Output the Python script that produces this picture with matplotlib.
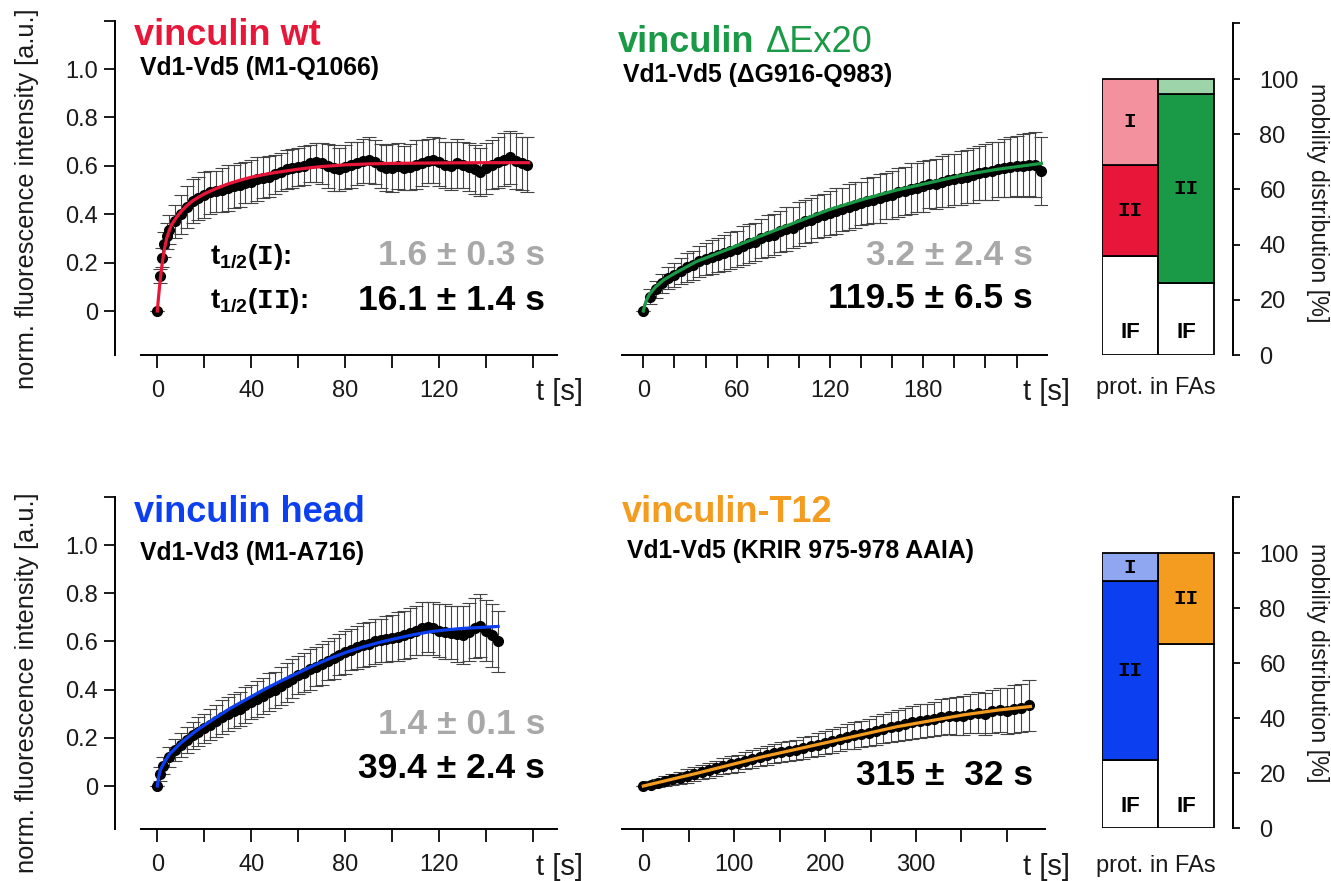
import matplotlib
matplotlib.use('Agg')
import matplotlib.pyplot as plt
import numpy as np

plt.rcParams['font.family'] = 'Liberation Sans'
plt.rcParams['mathtext.fontset'] = 'custom'
plt.rcParams['mathtext.rm'] = 'Liberation Sans:bold'
plt.rcParams['mathtext.tt'] = 'Liberation Mono:bold'
plt.rcParams['mathtext.default'] = 'rm'

# ---- data ----
# vinculin wt
t_wt = np.concatenate([[0, 1, 2, 3, 4, 5], np.arange(7.5, 158, 2.5)])
wt_mean = [0.00, 0.145, 0.22, 0.275, 0.31, 0.335,
           0.37, 0.40, 0.43, 0.455, 0.465, 0.48, 0.49, 0.495, 0.50, 0.51,
           0.515, 0.52, 0.53, 0.535, 0.545, 0.55, 0.555, 0.565, 0.575, 0.585,
           0.59, 0.595, 0.60, 0.61, 0.615, 0.61, 0.60, 0.59, 0.585, 0.595,
           0.605, 0.61, 0.62, 0.625, 0.615, 0.60, 0.59, 0.59, 0.60, 0.59,
           0.595, 0.605, 0.61, 0.62, 0.625, 0.615, 0.605, 0.60, 0.61, 0.605,
           0.595, 0.585, 0.575, 0.59, 0.605, 0.615, 0.625, 0.635, 0.62, 0.61,
           0.605]
wt_sd = [0.0, 0.03, 0.04, 0.05, 0.055, 0.06,
         0.07, 0.08, 0.085, 0.09, 0.09, 0.095, 0.09, 0.085, 0.09, 0.095,
         0.09, 0.09, 0.085, 0.09, 0.09, 0.085, 0.085, 0.08, 0.08, 0.08,
         0.08, 0.08, 0.08, 0.075, 0.08, 0.085, 0.09, 0.095, 0.09, 0.09,
         0.095, 0.09, 0.09, 0.095, 0.09, 0.09, 0.095, 0.1, 0.095, 0.09,
         0.095, 0.1, 0.095, 0.09, 0.095, 0.1, 0.095, 0.1, 0.1, 0.095,
         0.1, 0.1, 0.1, 0.105, 0.1, 0.105, 0.11, 0.11, 0.115, 0.11,
         0.115]
t_wt_fit = [0, 0.5, 1, 1.5, 2, 3, 4, 5, 6, 8, 10, 12.5, 15, 17.5, 20, 25, 30,
            35, 40, 45, 50, 55, 60, 65, 70, 80, 90, 100, 120, 140, 158]
wt_fit = [0, 0.055, 0.105, 0.15, 0.19, 0.255, 0.3, 0.33, 0.355, 0.385, 0.41,
          0.435, 0.455, 0.47, 0.484, 0.506, 0.525, 0.54, 0.553, 0.563, 0.572,
          0.579, 0.586, 0.592, 0.597, 0.604, 0.608, 0.61, 0.612, 0.613, 0.613]

# vinculin dEx20
t_dex = np.arange(0, 257, 4)
dex_mean = [0.0, 0.06, 0.09, 0.115, 0.135, 0.15, 0.165, 0.18, 0.19, 0.205,
            0.215, 0.225, 0.23, 0.24, 0.25, 0.255, 0.27, 0.28, 0.285, 0.30,
            0.31, 0.315, 0.33, 0.34, 0.345, 0.36, 0.37, 0.375, 0.39, 0.395,
            0.405, 0.415, 0.42, 0.43, 0.44, 0.445, 0.455, 0.46, 0.465, 0.475,
            0.48, 0.49, 0.495, 0.505, 0.51, 0.515, 0.525, 0.525, 0.535, 0.54,
            0.545, 0.55, 0.555, 0.56, 0.57, 0.575, 0.58, 0.585, 0.59, 0.595,
            0.60, 0.60, 0.605, 0.605, 0.58]
dex_sd = [0.0, 0.03, 0.035, 0.04, 0.045, 0.05, 0.055, 0.06, 0.06, 0.065,
          0.065, 0.07, 0.07, 0.075, 0.075, 0.075, 0.08, 0.08, 0.08, 0.08,
          0.085, 0.085, 0.085, 0.09, 0.085, 0.09, 0.09, 0.09, 0.09, 0.09,
          0.09, 0.095, 0.09, 0.095, 0.095, 0.09, 0.095, 0.095, 0.1, 0.095,
          0.1, 0.1, 0.1, 0.105, 0.1, 0.105, 0.1, 0.105, 0.105, 0.11,
          0.105, 0.11, 0.11, 0.115, 0.11, 0.115, 0.12, 0.115, 0.12, 0.125,
          0.125, 0.13, 0.13, 0.135, 0.14]
t_dex_fit = [0, 1, 2, 4, 8, 13, 20, 34, 56, 77, 99, 120, 141, 163, 184, 206,
             227, 256]
dex_fit = [0.0, 0.025, 0.045, 0.07, 0.10, 0.128, 0.155, 0.204, 0.259, 0.314,
           0.369, 0.42, 0.461, 0.50, 0.53, 0.562, 0.585, 0.61]

# vinculin head
t_head = np.concatenate([[0, 1], np.arange(2.5, 145.1, 2.5)])
head_mean = [0.0, 0.05,
             0.085, 0.12, 0.15, 0.17, 0.19, 0.21, 0.225, 0.24, 0.255, 0.27,
             0.285, 0.30, 0.31, 0.32, 0.335, 0.35, 0.36, 0.375, 0.39, 0.40,
             0.415, 0.43, 0.445, 0.46, 0.47, 0.485, 0.495, 0.505, 0.52, 0.53,
             0.545, 0.555, 0.565, 0.575, 0.585, 0.59, 0.60, 0.605, 0.61, 0.615,
             0.62, 0.625, 0.635, 0.645, 0.655, 0.66, 0.655, 0.645, 0.64, 0.635,
             0.63, 0.625, 0.64, 0.655, 0.665, 0.645, 0.625, 0.60]
head_sd = [0.0, 0.03,
           0.035, 0.04, 0.045, 0.05, 0.055, 0.055, 0.06, 0.06, 0.065, 0.065,
           0.07, 0.07, 0.07, 0.07, 0.075, 0.07, 0.075, 0.075, 0.08, 0.075,
           0.08, 0.08, 0.08, 0.08, 0.08, 0.085, 0.08, 0.085, 0.08, 0.085,
           0.085, 0.09, 0.085, 0.09, 0.09, 0.09, 0.095, 0.09, 0.095, 0.095,
           0.1, 0.1, 0.105, 0.1, 0.11, 0.105, 0.11, 0.11, 0.115, 0.11,
           0.115, 0.12, 0.12, 0.125, 0.13, 0.125, 0.13, 0.125]
t_head_fit = [0, 0.6, 1.3, 2.7, 5, 9.8, 16.9, 24, 31, 38, 45, 52, 59.4, 66.5,
              73.6, 80.7, 87.8, 95, 102, 109, 116, 123, 130, 145]
head_fit = [0.0, 0.039, 0.066, 0.094, 0.13, 0.177, 0.232, 0.278, 0.322, 0.36,
            0.398, 0.433, 0.467, 0.5, 0.53, 0.556, 0.578, 0.597, 0.613, 0.628,
            0.64, 0.648, 0.654, 0.662]

# vinculin-T12
t_t12 = np.arange(0, 425, 8)
t12_mean = [0.0, 0.005, 0.012, 0.02, 0.028, 0.035, 0.042, 0.05, 0.058, 0.065,
            0.073, 0.082, 0.09, 0.095, 0.105, 0.112, 0.12, 0.128, 0.135, 0.14,
            0.145, 0.15, 0.158, 0.165, 0.172, 0.18, 0.185, 0.195, 0.205, 0.21,
            0.215, 0.222, 0.23, 0.238, 0.245, 0.25, 0.258, 0.265, 0.27, 0.272,
            0.278, 0.285, 0.29, 0.29, 0.292, 0.30, 0.305, 0.30, 0.31, 0.315,
            0.31, 0.32, 0.325, 0.335]
t12_sd = [0.0, 0.015, 0.018, 0.02, 0.022, 0.025, 0.028, 0.03, 0.03, 0.032,
          0.032, 0.034, 0.035, 0.035, 0.036, 0.037, 0.038, 0.04, 0.04, 0.042,
          0.04, 0.043, 0.045, 0.044, 0.046, 0.048, 0.05, 0.05, 0.052, 0.055,
          0.055, 0.058, 0.06, 0.06, 0.062, 0.065, 0.065, 0.068, 0.07, 0.07,
          0.072, 0.075, 0.075, 0.078, 0.08, 0.082, 0.085, 0.088, 0.09, 0.092,
          0.095, 0.098, 0.1, 0.105]
t_t12_fit = [0, 59, 132, 206, 279, 352, 390, 426]
t12_fit = [0.0, 0.053, 0.122, 0.184, 0.246, 0.295, 0.315, 0.33]

# mobility distribution [%]: immobile (IF), slow (II), fast (I)
top_if = [36, 26]
top_ii = [33, 68.5]
top_i = [31, 5.5]
bot_if = [25, 67]
bot_ii = [65, 33]
bot_i = [10, 0]

RED, GREEN, BLUE, ORANGE = '#e8173a', '#1a9a47', '#0b3ff0', '#f39c1f'
GREY = '#a8a8a8'

W, H = 1331, 881
fig = plt.figure(figsize=(W / 100, H / 100), dpi=100)


def fx(x):
    return x / W


def fy(y):
    return 1 - y / H


def rect(x0, y0, x1, y1):
    return [x0 / W, 1 - y1 / H, (x1 - x0) / W, (y1 - y0) / H]


def frap(r, xlim, t, mean, sd, tf, fit, color, xticks, xlabels, xbounds,
         yaxis=True):
    ax = fig.add_axes(r)
    ax.set_xlim(xlim)
    ax.set_ylim(-0.18, 1.2)
    ax.errorbar(t, mean, yerr=sd, fmt='none', ecolor='#444444',
                elinewidth=0.8, capsize=5, capthick=0.8, zorder=2)
    ax.plot(t, mean, 'o', color='black', ms=7, zorder=3)
    ax.plot(tf, fit, color=color, lw=2.3, zorder=4)
    ax.patch.set_visible(False)
    for s in ['top', 'right']:
        ax.spines[s].set_visible(False)
    ax.spines['bottom'].set_bounds(*xbounds)
    ax.spines['bottom'].set_linewidth(1.4)
    ax.set_xticks(xticks)
    ax.set_xticklabels(xlabels)
    ax.tick_params(axis='x', length=9, width=1.4, pad=9, labelsize=17,
                   colors='#1a1a1a')
    if yaxis:
        ax.spines['left'].set_linewidth(1.4)
        ax.set_yticks([0, 0.2, 0.4, 0.6, 0.8, 1.0, 1.2])
        ax.set_yticklabels(['0', '0.2', '0.4', '0.6', '0.8', '1.0', ''])
        ax.tick_params(axis='y', length=8, width=1.4, pad=4, labelsize=17,
                       colors='#1a1a1a')
    else:
        ax.spines['left'].set_visible(False)
        ax.set_yticks([])
    return ax


def bars(r, ylim, b_if, b_ii, b_i, c_ii, c_i):
    ax = fig.add_axes(r)
    ax.set_xlim(0, 2.34)
    ax.set_ylim(0, ylim)
    x = np.arange(2)
    ax.bar(x, b_if, width=1, align='edge', color='white', edgecolor='black', lw=1.3)
    ax.bar(x, b_ii, width=1, align='edge', bottom=b_if, color=c_ii,
           edgecolor='black', lw=1.3)
    low = np.array(b_if) + np.array(b_ii)
    for i in range(2):
        if b_i[i] > 0:
            ax.bar(x[i], b_i[i], width=1, align='edge', bottom=low[i],
                   color=c_i[i], edgecolor='black', lw=1.3)
        ax.text(i + 0.5, 8, 'IF', ha='center', va='center', fontsize=16,
                fontweight='bold')
        ax.text(i + 0.5, b_if[i] + b_ii[i] / 2, 'II', ha='center', va='center',
                fontsize=15, family='Liberation Mono', fontweight='bold')
        if b_i[i] >= 8:
            ax.text(i + 0.5, low[i] + b_i[i] / 2, 'I', ha='center', va='center',
                    fontsize=15, family='Liberation Mono', fontweight='bold')
    for s in ['top', 'left', 'bottom']:
        ax.spines[s].set_visible(False)
    ax.spines['right'].set_linewidth(1.4)
    ax.patch.set_visible(False)
    ax.set_xticks([])
    ax.yaxis.tick_right()
    ax.set_yticks([0, 20, 40, 60, 80, 100, ylim])
    ax.set_yticklabels(['0', '20', '40', '60', '80', '100', ''])
    ax.tick_params(axis='y', length=5, width=1.4, pad=14, labelsize=17,
                   colors='#1a1a1a')
    return ax


lab20 = ['0', '', '40', '', '80', '', '120', '', '']
ax1 = frap(rect(115, 20.6, 556.8, 354.6), (-18, 170), t_wt, wt_mean, wt_sd,
           t_wt_fit, wt_fit, RED, np.arange(0, 161, 20), lab20, (-7, 170))
ax2 = frap(rect(622, 20.6, 1047, 354.6), (-13.7, 259.6), t_dex, dex_mean, dex_sd,
           t_dex_fit, dex_fit, GREEN, np.arange(0, 241, 20),
           ['0', '', '', '60', '', '', '120', '', '', '180', '', '', ''],
           (-13.7, 259.6), yaxis=False)
ax3 = frap(rect(115, 496.8, 556.8, 829.4), (-18, 170), t_head, head_mean, head_sd,
           t_head_fit, head_fit, BLUE, np.arange(0, 161, 20), lab20, (-7, 170))
ax4 = frap(rect(622, 496.8, 1045, 829.4), (-23.5, 442), t_t12, t12_mean, t12_sd,
           t_t12_fit, t12_fit, ORANGE, np.arange(0, 401, 50),
           ['0', '', '100', '', '200', '', '300', '', ''], (-23.5, 442),
           yaxis=False)

bars(rect(1102, 23, 1233, 355), 120.3, top_if, top_ii, top_i,
     [RED, GREEN], ['#f4919f', '#9dd4aa'])
bars(rect(1102, 497, 1233, 828.3), 120.5, bot_if, bot_ii, bot_i,
     [BLUE, ORANGE], ['#8fa7f0', ORANGE])

# axis labels
for yc in (199, 683):
    fig.text(fx(27), fy(yc), 'norm. fluorescence intensity [a.u.]', rotation=90,
             ha='center', va='center', fontsize=18.3, color='#1a1a1a')
for xc, yc in ((536, 392), (1023, 392), (536, 867), (1023, 867)):
    fig.text(fx(xc), fy(yc), 't [s]', ha='left', va='center', fontsize=21,
             color='#1a1a1a')
for yc in (203, 663):
    fig.text(fx(1317), fy(yc), 'mobility distribution [%]', rotation=-90,
             ha='center', va='center', fontsize=16.8, color='#1a1a1a')
for yc in (388, 866):
    fig.text(fx(1156), fy(yc), 'prot. in FAs', ha='center', va='center',
             fontsize=17, color='#1a1a1a')

# titles
fig.text(fx(134), fy(45), 'vinculin wt', fontsize=26, fontweight='bold',
         color=RED, va='baseline')
fig.text(fx(140), fy(75), 'Vd1-Vd5 (M1-Q1066)', fontsize=17.8, fontweight='bold',
         va='baseline')
tv = fig.text(fx(618), fy(52), 'vinculin', fontsize=26, fontweight='bold',
              color=GREEN, va='baseline')
ax2.annotate('\u0394Ex20', xy=(1, 0), xycoords=tv, xytext=(8, 0),
             textcoords='offset points', fontsize=26, color=GREEN,
             ha='left', va='bottom')
fig.text(fx(623), fy(82), 'Vd1-Vd5 (\u0394G916-Q983)', fontsize=17.8,
         fontweight='bold', va='baseline')
fig.text(fx(134), fy(522), 'vinculin head', fontsize=26, fontweight='bold',
         color=BLUE, va='baseline')
fig.text(fx(140), fy(560), 'Vd1-Vd3 (M1-A716)', fontsize=17.8, fontweight='bold',
         va='baseline')
fig.text(fx(622), fy(522), 'vinculin-T12', fontsize=26, fontweight='bold',
         color=ORANGE, va='baseline')
fig.text(fx(627), fy(558), 'Vd1-Vd5 (KRIR 975-978 AAIA)', fontsize=17.8,
         fontweight='bold', va='baseline')

# half-times
fig.text(fx(210), fy(264), r't$_{1/2}$($\mathtt{I}$):', fontsize=20,
         fontweight='bold', va='baseline')
fig.text(fx(210), fy(308), r't$_{1/2}$($\mathtt{II}$):', fontsize=20,
         fontweight='bold', va='baseline')
half = [(545, 265, '1.6 \u00b1 0.3 s', GREY), (545, 310, '16.1 \u00b1 1.4 s', 'black'),
        (1033, 265, '3.2 \u00b1 2.4 s', GREY), (1033, 308, '119.5 \u00b1 6.5 s', 'black'),
        (545, 734, '1.4 \u00b1 0.1 s', GREY), (545, 778, '39.4 \u00b1 2.4 s', 'black'),
        (1033, 785, '315 \u00b1  32 s', 'black')]
for xr, yb, s, c in half:
    fig.text(fx(xr), fy(yb), s, ha='right', va='baseline', fontsize=25.5,
             fontweight='bold', color=c)

fig.savefig('out.png', dpi=100)
